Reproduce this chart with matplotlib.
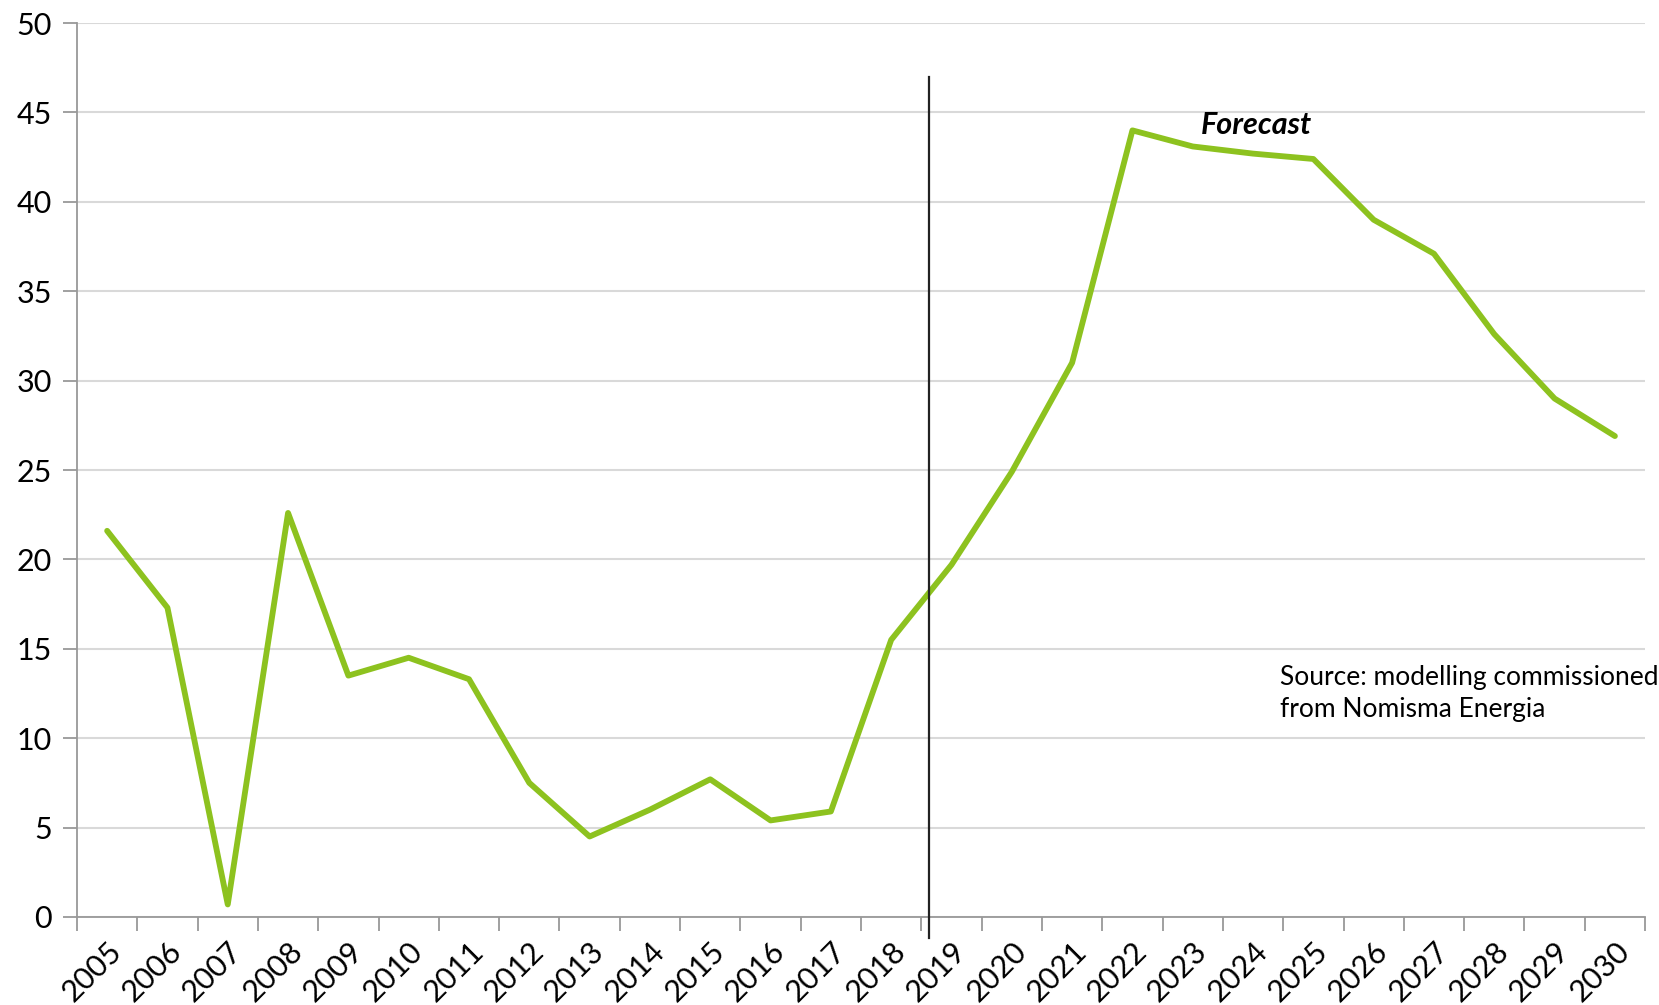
import numpy as np
import matplotlib.pyplot as plt
from matplotlib.ticker import FixedLocator, NullFormatter

# Data
years = [str(y) for y in range(2005, 2031)]
values = [21.6, 17.3, 0.7, 22.6, 13.5, 14.5, 13.3, 7.5, 4.5, 6.0, 7.7, 5.4, 5.9,
          15.5, 19.7, 24.9, 31.0, 44.0, 43.1, 42.7, 42.4, 39.0, 37.1, 32.6, 29.0, 26.9]
forecast_label = 'Forecast'
source_label = 'Source: modelling commissioned\nfrom Nomisma Energia'

plt.rcParams['font.family'] = ['Lato', 'DejaVu Sans']

fig = plt.figure(figsize=(16.59, 10.05), dpi=100)
ax = fig.add_axes([0.0464, 0.0876, 0.9452, 0.8894])

x = np.arange(len(years))
ax.plot(x, values, color='#8DC21F', lw=4.2, solid_joinstyle='round',
        solid_capstyle='round', zorder=3)

# forecast divider, drawn a bit below the axis
ax.plot([13.63, 13.63], [47.0, -1.2], color='#222222', lw=1.6, clip_on=False, zorder=4)

ax.text(19.05, 44.3, forecast_label, fontsize=22, fontweight='bold', fontstyle='italic',
        ha='center', va='center')
ax.text(19.45, 12.5, source_label, fontsize=19, ha='left', va='center', linespacing=1.35)

ax.set_xlim(-0.5, len(years) - 0.5)
ax.set_ylim(0, 50)
ax.set_yticks(np.arange(0, 51, 5))
ax.yaxis.grid(True, color='#d9d9d9', lw=1.5)
ax.set_axisbelow(True)

# ticks at category boundaries, labels at centers
ax.xaxis.set_major_locator(FixedLocator(np.arange(-0.5, len(years), 1.0)))
ax.xaxis.set_major_formatter(NullFormatter())
ax.xaxis.set_minor_locator(FixedLocator(x))
ax.set_xticklabels(years, minor=True, rotation=45, ha='right', rotation_mode='anchor',
                   fontsize=22)
ax.tick_params(axis='x', which='minor', length=0, pad=14)
ax.tick_params(axis='x', which='major', length=10, width=1.3, color='#999999')
ax.tick_params(axis='y', length=10, width=1.3, color='#999999', labelsize=22, pad=8)

for s in ['top', 'right']:
    ax.spines[s].set_visible(False)
for s in ['left', 'bottom']:
    ax.spines[s].set_color('#999999')
    ax.spines[s].set_linewidth(1.3)

fig.savefig('out.png', dpi=100)
